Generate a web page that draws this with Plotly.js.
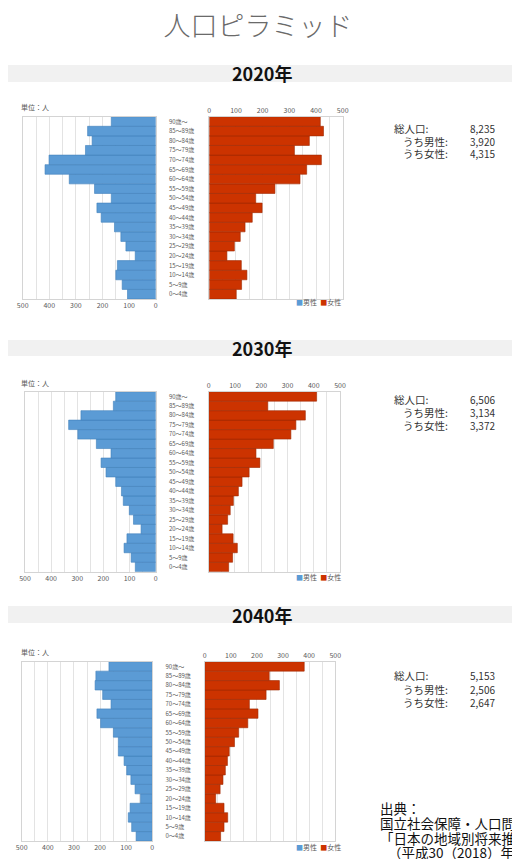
<!DOCTYPE html>
<html>
<head>
<meta charset="utf-8">
<script src="https://cdn.plot.ly/plotly-3.0.1.min.js"></script>
<style>
html,body{margin:0;padding:0;background:#fff;}
#chart{width:512px;height:859px;}
</style>
</head>
<body>
<div id="chart"></div>
<script>
// ---------- DATA ----------
const ages = ['0～4歳','5～9歳','10～14歳','15～19歳','20～24歳','25～29歳','30～34歳','35～39歳','40～44歳','45～49歳','50～54歳','55～59歳','60～64歳','65～69歳','70～74歳','75～79歳','80～84歳','85～89歳','90歳～'];
const years = ['2020年','2030年','2040年'];

const male2020   = [106,126,150,144,77,112,131,155,205,221,167,230,325,416,401,264,239,256,167];
const female2020 = [101,121,141,120,66,94,116,134,161,198,174,246,340,365,420,319,375,428,416];
const male2030   = [78,94,121,110,56,85,101,124,131,153,190,209,171,227,298,333,286,162,153];
const female2030 = [76,91,109,93,51,72,82,94,113,127,154,195,180,246,313,332,368,225,411];
const male2040   = [62,79,92,85,45,66,82,98,108,130,130,149,198,212,158,190,219,216,166];
const female2040 = [61,74,88,74,42,59,70,79,87,94,114,130,165,204,171,235,286,247,381];

const totalPop  = [8235,6506,5153];
const totalMale = [3920,3134,2506];
const totalFemale = [4315,3372,2647];

const axisTicks = [0,100,200,300,400,500];
const seriesNames = ['男性','女性'];
const titleText = '人口ピラミッド';
const unitText = '単位：人';
const totalLabels = ['総人口:','うち男性:','うち女性:'];
const sourceLines = ['出典：','国立社会保障・人口問題研究所','「日本の地域別将来推計人口」','（平成30（2018）年推計）'];

// ---------- LAYOUT HELPERS ----------
const W = 512, H = 859;
const px = v => v / W;
const py = v => 1 - v / H;
const BLUE = '#5B9BD5', RED = '#CC3300';
const FONT = '"Noto Sans CJK JP", "Noto Sans", sans-serif';

const panels = [
  {male: male2020, female: female2020, mx:[22.7,155.7], fx:[209.3,342.7], top:116.7, bottom:299, banner:[65,82], unitY:107, legY:302, totY:[128,141,154]},
  {male: male2030, female: female2030, mx:[25,155.7],   fx:[208.7,340],   top:391.7, bottom:571.7, banner:[340,356], unitY:383, legY:577, totY:[399,412,425]},
  {male: male2040, female: female2040, mx:[21.7,152.3], fx:[204.7,335.3], top:661.7, bottom:841, banner:[606,623], unitY:652, legY:847, totY:[675,689,702]}
];

const traces = [];
const layout = {
  width: W, height: H,
  margin: {l:0, r:0, t:0, b:0},
  paper_bgcolor: '#fff', plot_bgcolor: '#fff',
  showlegend: false,
  bargap: 0.0,
  barmode: 'overlay',
  font: {family: FONT, color: '#595959'},
  title: {text: titleText, x: px(258), xanchor: 'center', y: py(27), yanchor: 'middle',
          font: {size: 27, color: '#6a6a6a', family: FONT, weight: 300}},
  shapes: [],
  annotations: []
};

const tickFont = {size: 7, color: '#595959', family: FONT};
const gridColor = '#e3e3e3';
const frameColor = '#d4d4d4';

panels.forEach((p, i) => {
  const mi = 2*i + 1, fi = 2*i + 2;
  const ydom = [py(p.bottom), py(p.top)];
  const xm = 'x' + mi, ym = 'y' + mi, xf = 'x' + fi, yf = 'y' + fi;

  traces.push({
    type: 'bar', orientation: 'h', name: seriesNames[0],
    x: p.male, y: ages, xaxis: xm, yaxis: ym,
    marker: {color: BLUE, line: {color: '#3f7fba', width: 0.6}},
    hoverinfo: 'x+y'
  });
  traces.push({
    type: 'bar', orientation: 'h', name: seriesNames[1],
    x: p.female, y: ages, xaxis: xf, yaxis: yf,
    marker: {color: RED, line: {color: '#9e2800', width: 0.6}},
    hoverinfo: 'x+y'
  });

  const xCommon = {
    tickvals: axisTicks, ticks: '', tickfont: tickFont,
    showgrid: true, gridcolor: gridColor, gridwidth: 1,
    minor: {dtick: 50, tick0: 0, showgrid: true, gridcolor: gridColor, gridwidth: 1},
    zeroline: false, showline: true, mirror: true, linecolor: frameColor, linewidth: 1,
    fixedrange: true
  };
  layout['xaxis' + mi] = Object.assign({}, xCommon, {
    domain: [px(p.mx[0]), px(p.mx[1])], anchor: ym, range: [500, 0], side: 'bottom'
  });
  layout['xaxis' + fi] = Object.assign({}, xCommon, {
    domain: [px(p.fx[0]), px(p.fx[1])], anchor: yf, range: [0, 500], side: 'top'
  });
  layout['yaxis' + mi] = {
    domain: ydom, anchor: xm, type: 'category', categoryarray: ages, categoryorder: 'array',
    range: [-0.5, ages.length - 0.5],
    side: 'right', tickmode: 'array', tickvals: ages, ticktext: ages,
    ticks: '', ticklabelstandoff: 11, tickfont: {size: 6, color: '#595959', family: FONT},
    showgrid: false, zeroline: false, showline: true, mirror: true, linecolor: frameColor, fixedrange: true
  };
  layout['yaxis' + fi] = {
    domain: ydom, anchor: xf, type: 'category', categoryarray: ages, categoryorder: 'array',
    range: [-0.5, ages.length - 0.5],
    showticklabels: false, ticks: '',
    showgrid: false, zeroline: false, showline: true, mirror: true, linecolor: frameColor, fixedrange: true
  };

  // year banner
  layout.shapes.push({
    type: 'rect', xref: 'paper', yref: 'paper', layer: 'below',
    x0: px(8), x1: 1, y0: py(p.banner[1]), y1: py(p.banner[0]),
    fillcolor: '#f1f1f1', line: {width: 0}
  });
  layout.annotations.push({
    xref: 'paper', yref: 'paper', x: px(262), y: py((p.banner[0] + p.banner[1]) / 2),
    xanchor: 'center', yanchor: 'middle', showarrow: false,
    text: '<b>' + years[i] + '</b>', font: {size: 18, color: '#111', family: FONT}
  });

  // unit label
  layout.annotations.push({
    xref: 'paper', yref: 'paper', x: px(19), y: py(p.unitY),
    xanchor: 'left', yanchor: 'middle', showarrow: false,
    text: unitText, font: {size: 7, color: '#595959', family: FONT}
  });

  // legend
  layout.annotations.push({
    xref: 'paper', yref: 'paper', x: px(294), y: py(p.legY),
    xanchor: 'left', yanchor: 'middle', showarrow: false,
    text: '<span style="color:' + BLUE + '">■</span>' + seriesNames[0] + '  <span style="color:' + RED + '">■</span>' + seriesNames[1],
    font: {size: 7, color: '#595959', family: FONT}
  });

  // totals
  const vals = [totalPop[i], totalMale[i], totalFemale[i]];
  totalLabels.forEach((lab, k) => {
    layout.annotations.push({
      xref: 'paper', yref: 'paper', x: px(k === 0 ? 392 : 401), y: py(p.totY[k]),
      xanchor: 'left', yanchor: 'middle', showarrow: false,
      text: lab, font: {size: 10.5, color: '#333', family: FONT}
    });
    layout.annotations.push({
      xref: 'paper', yref: 'paper', x: px(497), y: py(p.totY[k]),
      xanchor: 'right', yanchor: 'middle', showarrow: false,
      text: vals[k].toLocaleString('en-US'), font: {size: 10, color: '#333', family: FONT}
    });
  });
});

// source text
const srcY = [808, 823, 838, 852];
const srcX = [378, 378, 378, 386];
sourceLines.forEach((t, k) => {
  layout.annotations.push({
    xref: 'paper', yref: 'paper', x: px(srcX[k]), y: py(srcY[k]),
    xanchor: 'left', yanchor: 'middle', showarrow: false,
    text: t, font: {size: 13.5, color: '#111', family: FONT}
  });
});

Plotly.newPlot('chart', traces, layout, {displayModeBar: false, staticPlot: true});
</script>
</body>
</html>
